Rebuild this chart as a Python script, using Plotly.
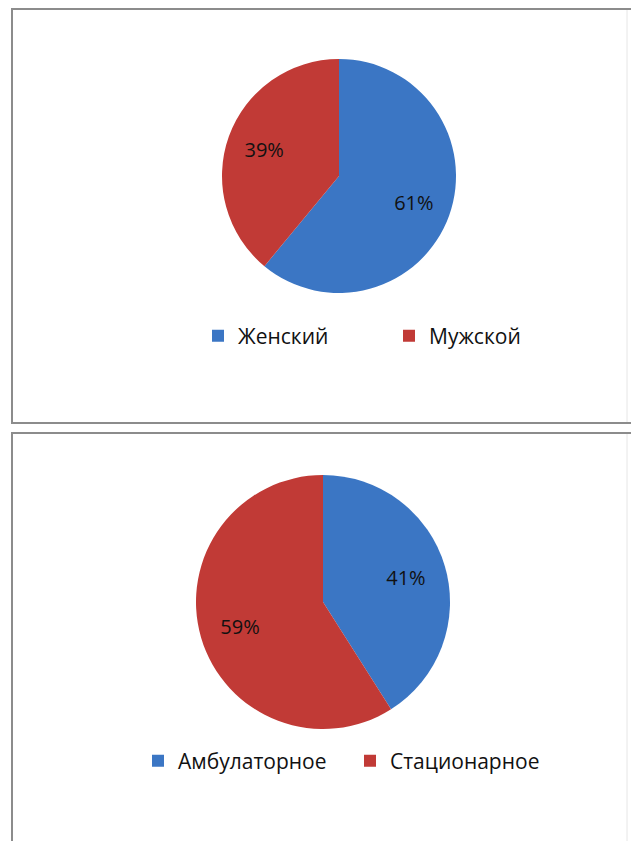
import plotly.graph_objects as go

W, H = 631, 841

# Data
gender_labels = ["Женский", "Мужской"]
gender_values = [61, 39]
care_labels = ["Амбулаторное", "Стационарное"]
care_values = [41, 59]
colors = ["#3B76C4", "#C13A36"]

FONT = "Open Sans"


def px_x(x):
    return x / W


def px_y(y):
    return 1 - y / H


def add_pie(labels, values, dom_x, dom_y, legend_name):
    # filled pie (no text)
    fig.add_trace(go.Pie(
        labels=labels, values=values, sort=False,
        direction="clockwise", rotation=0,
        marker=dict(colors=colors, line=dict(width=0)),
        textinfo="none",
        domain=dict(x=dom_x, y=dom_y),
        legend=legend_name, hoverinfo="label+percent",
    ))
    # transparent ring carrying the percentage labels at ~0.68 radius
    fig.add_trace(go.Pie(
        labels=labels, values=values, sort=False,
        direction="clockwise", rotation=0, hole=0.36,
        marker=dict(colors=["rgba(0,0,0,0)"] * len(values), line=dict(width=0)),
        textinfo="percent", textposition="inside",
        insidetextorientation="horizontal",
        textfont=dict(family=FONT, size=20, color="#111111"),
        domain=dict(x=dom_x, y=dom_y),
        showlegend=False, hoverinfo="skip",
    ))


fig = go.Figure()
add_pie(gender_labels, gender_values,
        [px_x(222), px_x(456)], [px_y(293), px_y(59)], "legend")
add_pie(care_labels, care_values,
        [px_x(196), px_x(450)], [px_y(729), px_y(475)], "legend2")

legend_common = dict(
    orientation="h", xanchor="left", yanchor="middle",
    font=dict(family=FONT, size=21, color="#111111"),
    bgcolor="rgba(0,0,0,0)", traceorder="normal",
)

border = "#8c8c8c"
shapes = [
    # top panel
    dict(type="line", x0=px_x(11), x1=px_x(631), y0=px_y(9), y1=px_y(9), line=dict(color=border, width=2)),
    dict(type="line", x0=px_x(11), x1=px_x(631), y0=px_y(423), y1=px_y(423), line=dict(color=border, width=2)),
    dict(type="line", x0=px_x(12), x1=px_x(12), y0=px_y(9), y1=px_y(423), line=dict(color=border, width=2)),
    dict(type="line", x0=px_x(627), x1=px_x(627), y0=px_y(10), y1=px_y(422), line=dict(color="#e6e6e6", width=1)),
    # bottom panel
    dict(type="line", x0=px_x(11), x1=px_x(631), y0=px_y(433), y1=px_y(433), line=dict(color=border, width=2)),
    dict(type="line", x0=px_x(12), x1=px_x(12), y0=px_y(433), y1=px_y(841), line=dict(color=border, width=2)),
    dict(type="line", x0=px_x(627), x1=px_x(627), y0=px_y(434), y1=px_y(841), line=dict(color="#e6e6e6", width=1)),
]

fig.update_layout(
    width=W, height=H,
    margin=dict(l=0, r=0, t=0, b=0),
    paper_bgcolor="white", plot_bgcolor="white",
    showlegend=True,
    legend=dict(x=px_x(198), y=px_y(336), entrywidth=146, **legend_common),
    legend2=dict(x=px_x(138), y=px_y(761), entrywidth=167, **legend_common),
    shapes=shapes,
)

fig.write_html("out.html")
